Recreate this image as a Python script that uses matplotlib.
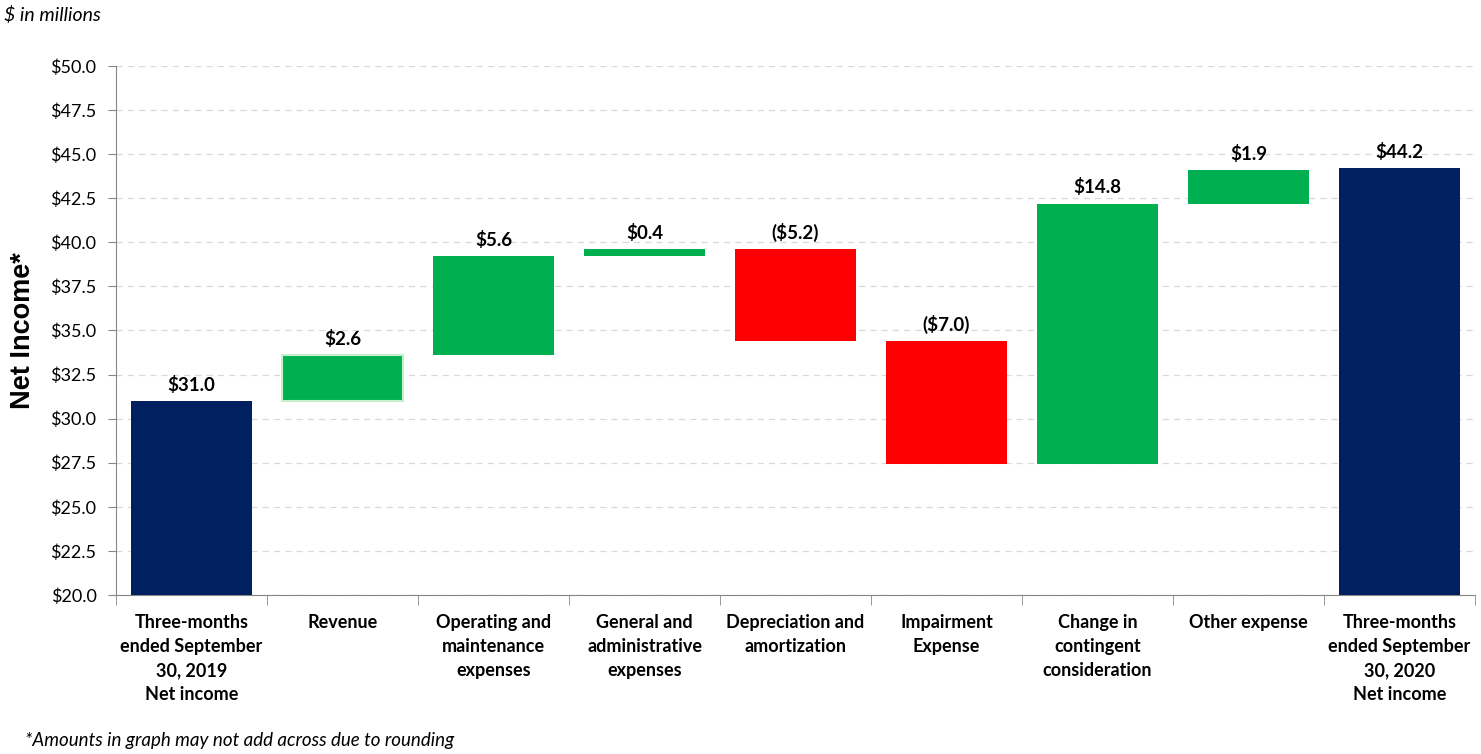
import numpy as np
import matplotlib.pyplot as plt

plt.rcParams['font.family'] = ['Lato', 'DejaVu Sans']

categories = ["Three-months\nended September\n30, 2019\nNet income", "Revenue",
              "Operating and\nmaintenance\nexpenses", "General and\nadministrative\nexpenses",
              "Depreciation and\namortization", "Impairment\nExpense", "Change in\ncontingent\nconsideration",
              "Other expense", "Three-months\nended September\n30, 2020\nNet income"]
start_value = 31.0
changes = [2.6, 5.6, 0.4, -5.2, -7.0, 14.8, 1.9]
end_value = 44.2
value_labels = ["$31.0", "$2.6", "$5.6", "$0.4", "($5.2)", "($7.0)", "$14.8", "$1.9", "$44.2"]

navy = '#002060'
green = '#00B050'
red = '#FF0000'

# bottoms and heights of the floating bars
bottoms = [20.0]
heights = [start_value - 20.0]
colors = [navy]
level = start_value
for c in changes:
    if c >= 0:
        bottoms.append(level)
        colors.append(green)
    else:
        bottoms.append(level + c)
        colors.append(red)
    heights.append(abs(c))
    level += c
bottoms.append(20.0)
heights.append(end_value - 20.0)
colors.append(navy)

fig = plt.figure(figsize=(14.81, 7.54), dpi=100)
ax = fig.add_axes([0.0783, 0.2109, 0.9177, 0.7016])

x = np.arange(len(categories))
edges = ['none'] * len(x)
edges[1] = '#c6efce'
ax.bar(x, heights, bottom=bottoms, width=0.8, color=colors, edgecolor=edges, linewidth=1.5, zorder=3)

for i in range(len(x)):
    top = bottoms[i] + heights[i]
    ax.text(x[i], top + 0.4, value_labels[i], ha='center', va='bottom',
            fontsize=13.5, fontweight='bold', color='black', zorder=4)

ax.set_ylim(20, 50)
ax.set_xlim(-0.5, len(x) - 0.5)
ax.set_yticks(np.arange(20, 50.1, 2.5))
ax.set_yticklabels(['${:.1f}'.format(v) for v in np.arange(20, 50.1, 2.5)], fontsize=13)
ax.set_xticks(x)
ax.set_xticklabels(categories, fontsize=13, fontweight='bold', linespacing=1.5)
ax.set_xticks(np.arange(-0.5, len(x)), minor=True)
ax.tick_params(axis='x', which='major', length=0, pad=14)
ax.tick_params(axis='x', which='minor', length=7, color='#868686', direction='out')
ax.tick_params(axis='y', length=6, color='#868686', pad=8)

ax.grid(axis='y', linestyle=(0, (5, 4)), color='#d9d9d9', linewidth=0.9, zorder=0)
ax.spines['top'].set_visible(False)
ax.spines['right'].set_visible(False)
ax.spines['left'].set_color('#868686')
ax.spines['bottom'].set_color('#868686')

ax.set_ylabel("Net Income*", fontsize=19.5, fontweight='bold', labelpad=10,
              family=['Liberation Sans', 'DejaVu Sans'])

fig.text(0.003, 0.980, "$ in millions", fontsize=14, style='italic', ha='left', va='center')
fig.text(0.017, 0.018, "*Amounts in graph may not add across due to rounding", fontsize=13.5,
         style='italic', ha='left', va='center')

fig.savefig('out.png', dpi=100)
